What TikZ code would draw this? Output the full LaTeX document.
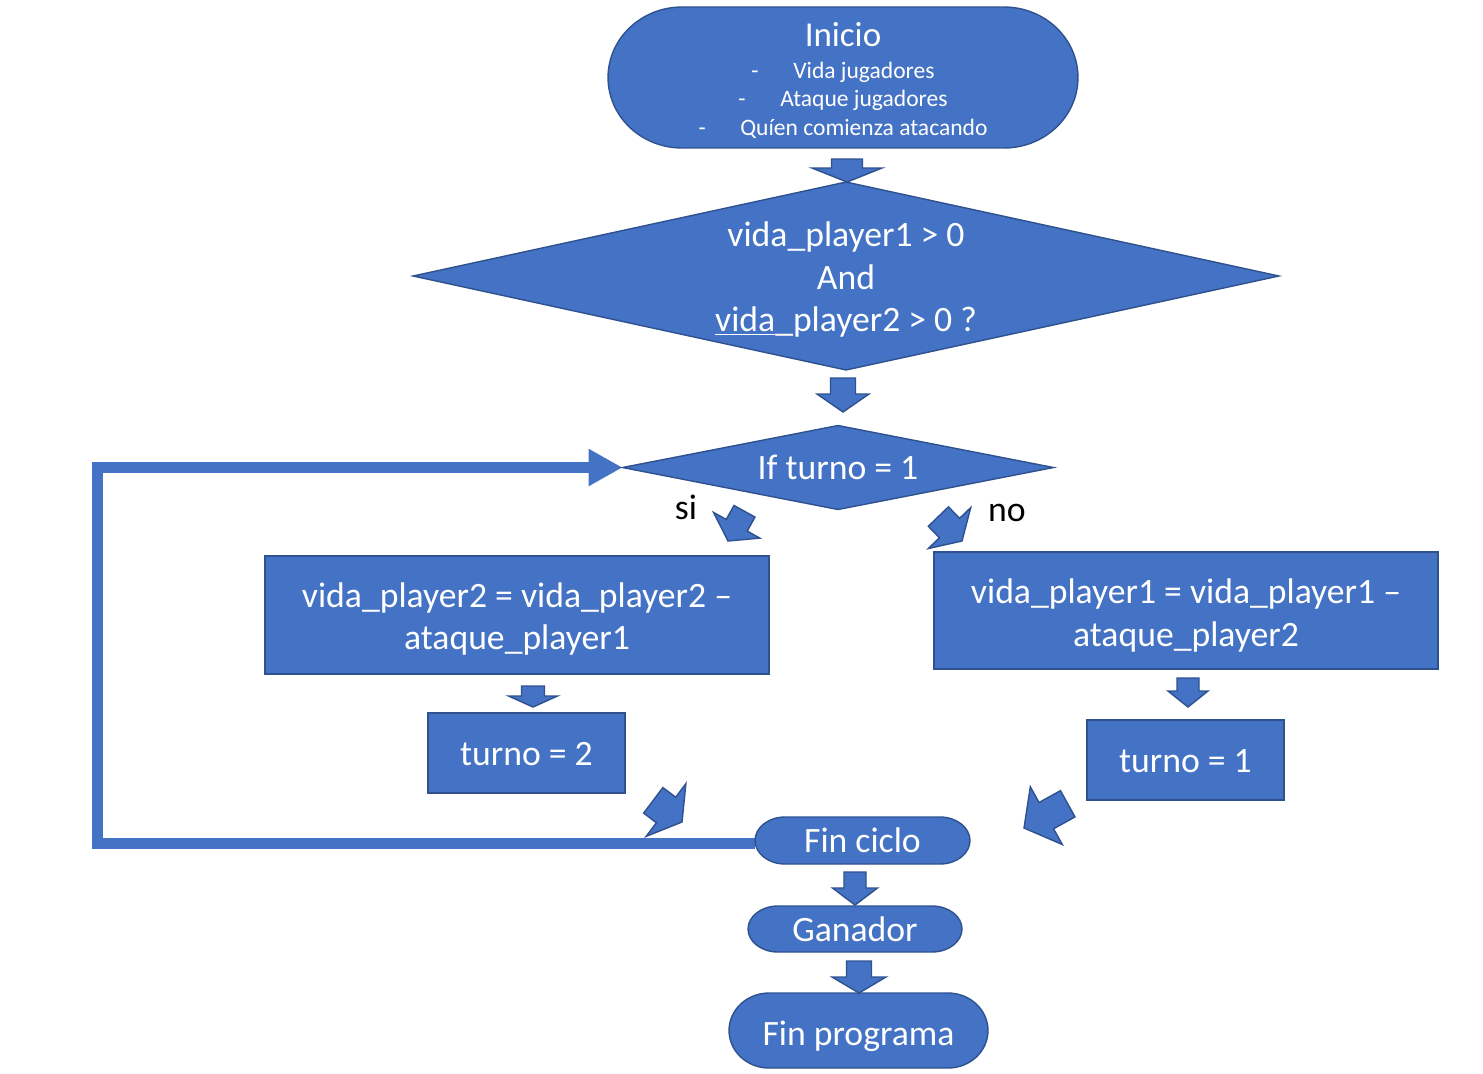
\documentclass[tikz,border=0pt]{standalone}
\usepackage{fontspec}
\setmainfont{Carlito}
\usetikzlibrary{shapes.geometric,arrows.meta,calc}
\pgfdeclarelayer{background}
\pgfdeclarelayer{canvas}
\pgfsetlayers{canvas,background,main}
\definecolor{blu}{HTML}{4472C4}
\definecolor{bordo}{HTML}{2F528F}
\newcommand\bigfnt{\fontsize{20.3}{24.4}\selectfont}
\newcommand\smallfnt{\fontsize{13.4}{16.04}\selectfont}
\newcommand\tstrut[1]{\rule{0pt}{#1}}
\newcommand\termshape[3]{%
\begin{pgfonlayer}{background}
\filldraw[shp] ($(#1.north west)+(#2,0)$) -- ($(#1.north east)+(-#2,0)$)
 .. controls +(0.5523*#2,0) and +(0,-0.5523*#3) .. (#1.east)
 .. controls +(0,0.5523*#3) and +(0.5523*#2,0) .. ($(#1.south east)+(-#2,0)$)
 -- ($(#1.south west)+(#2,0)$)
 .. controls +(-0.5523*#2,0) and +(0,0.5523*#3) .. (#1.west)
 .. controls +(0,-0.5523*#3) and +(-0.5523*#2,0) .. ($(#1.north west)+(#2,0)$) -- cycle;
\end{pgfonlayer}}
\newcommand\blockarrow[7]{%
\filldraw[shp,shift={(#1,#2)},rotate=#3] (-#4,-#6) -- (#4,-#6) -- (#4,-#7) -- (#5,-#7) -- (0,0) -- (-#5,-#7) -- (-#4,-#7) -- cycle;}
\begin{document}
\begin{tikzpicture}[x=0.02cm,y=-0.02cm,
  shp/.style={fill=blu,draw=bordo,line width=0.8pt,line join=miter},
  tnode/.style={rectangle,draw=none,inner sep=0pt,outer sep=0pt,text=white,align=center,font=\bigfnt},
  box/.style={rectangle,shp,inner sep=0pt,outer sep=0pt,text=white,align=center,font=\bigfnt},
  dia/.style={diamond,shp,inner sep=0pt,outer sep=0pt,text=white,align=center,font=\bigfnt},
  lbl/.style={inner sep=0pt,anchor=base,text=black,font=\bigfnt},
  loopline/.style={draw=blu,line width=0.22cm,line join=miter,-{Triangle[length=0.68cm,width=0.7cm]}}]
\begin{pgfonlayer}{canvas}
\fill[white] (0,0) rectangle (1483,1073);
\end{pgfonlayer}
\useasboundingbox (0,0) rectangle (1483,1073);

% terminators
\node[tnode,font=\smallfnt,minimum width=9.4cm,minimum height=2.82cm] (inicio) at (843,77.5)
  {\tstrut{0.54cm}\smash{\fontsize{19.9}{24}\selectfont Inicio}\\[2.1pt]
   \smash{-\hspace{19.7pt}Vida jugadores}\\
   \smash{-\hspace{19.7pt}Ataque jugadores}\\
   \smash{-\hspace{19.7pt}Quíen comienza atacando}};
\termshape{inicio}{74}{70.5}

\node[tnode,minimum width=4.3cm,minimum height=0.94cm] (fc) at (862.5,840.5) {\tstrut{0.488cm}\smash{Fin ciclo}};
\node[tnode,minimum width=4.28cm,minimum height=0.92cm] (gan) at (855,929) {\tstrut{0.508cm}\smash{Ganador}};
\node[tnode,minimum width=5.18cm,minimum height=1.5cm] (fp) at (858.5,1030.5) {\tstrut{0.6cm}\smash{Fin programa}};

% decisions
\node[dia,shape aspect=4.6,minimum width=17.32cm,minimum height=3.76cm] (d1) at (846,276)
  {\tstrut{0.52cm}\smash{vida\_player1 > 0}\\\smash{And}\\\smash{\underline{vida}\_player2 > 0 ?}};
\node[dia,shape aspect=5.13,minimum width=8.62cm,minimum height=1.68cm] (d2) at (838,467.5) {\tstrut{0.492cm}\smash{If turno = 1}};

% loop
\coordinate (lb) at (97,843.5);
\coordinate (lt) at (97,467.5);
\begin{pgfonlayer}{background}
\draw[loopline] (fc.west |- lb) -- (lb) -- (lt) -- (d2.west);
\end{pgfonlayer}
\termshape{fc}{30}{23.5}
\termshape{gan}{30}{23}
\termshape{fp}{40}{37.5}

% process boxes
\node[box,minimum width=10.08cm,minimum height=2.36cm] (l1) at (517,615)
  {\tstrut{0.54cm}\smash{vida\_player2 = vida\_player2 –}\\\smash{ataque\_player1}};
\node[box,minimum width=3.94cm,minimum height=1.6cm] (l2) at (526.5,753) {\tstrut{0.5cm}\smash{turno = 2}};
\node[box,minimum width=10.08cm,minimum height=2.34cm] (r1) at (1186,610.5)
  {\tstrut{0.58cm}\smash{vida\_player1 = vida\_player1 –}\\\smash{ataque\_player2}};
\node[box,minimum width=3.94cm,minimum height=1.6cm] (r2) at (1185.5,760) {\tstrut{0.5cm}\smash{turno = 1}};

% labels
\node[lbl] (si) at (686,519.7) {si};
\node[lbl] (no) at (1007,521) {no};

% block arrows
\blockarrow{847}{182}{0}{15.5}{35}{23}{14}
\blockarrow{843}{412}{0}{12.5}{26}{34}{18}
\blockarrow{728}{541}{-29}{12}{26.5}{34}{18}
\blockarrow{962}{541}{44}{14}{29.5}{34}{18}
\blockarrow{533}{707}{0}{11.5}{24.5}{21}{11}
\blockarrow{1188}{707}{0}{11}{20}{29}{16}
\blockarrow{682}{822}{53}{16}{33}{36}{20}
\blockarrow{1024}{828}{-61}{15}{33}{50}{25.5}
\blockarrow{855}{905}{0}{11}{22.5}{33}{17}
\blockarrow{859}{993}{0}{12.5}{27}{32}{16}
\end{tikzpicture}
\end{document}
